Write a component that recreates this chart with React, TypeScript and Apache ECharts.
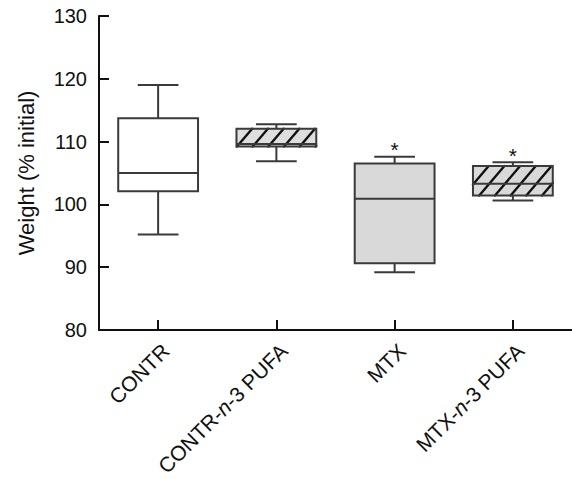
import React, { useEffect, useRef } from "react";
import * as echarts from "echarts";

// ---- data ----
const categories = ["CONTR", "CONTR-n-3 PUFA", "MTX", "MTX-n-3 PUFA"];
const minVals = [95.2, 106.85, 89.2, 100.6];
const q1Vals = [102.1, 109.2, 90.6, 101.4];
const medVals = [105.0, 109.6, 100.9, 103.3];
const q3Vals = [113.7, 112.05, 106.5, 106.1];
const maxVals = [119.0, 112.75, 107.6, 106.7];
const fills = ["#ffffff", "#dedede", "#d9d9d9", "#d9d9d9"];
const hatched = [false, true, false, true];
const starred = [false, false, true, true];
const yMin = 80;
const yMax = 130;
const yStep = 10;
const yName = "Weight (% initial)";

const FONT = "'Liberation Sans', Arial, Helvetica, sans-serif";
const INK = "#111111";
const BOX = "#3a3a3a";

const seriesData = categories.map((_, i) => [
  i,
  minVals[i],
  q1Vals[i],
  medVals[i],
  q3Vals[i],
  maxVals[i],
]);

function renderItem(params: any, api: any) {
  const i = api.value(0);
  const idx = params.dataIndex;
  const pMin = api.coord([i, api.value(1)]);
  const pQ1 = api.coord([i, api.value(2)]);
  const pMed = api.coord([i, api.value(3)]);
  const pQ3 = api.coord([i, api.value(4)]);
  const pMax = api.coord([i, api.value(5)]);
  const band = api.size([1, 0])[0];
  const boxW = band * 0.675;
  const capW = boxW * 0.51;
  const cx = pMed[0];
  const xl = cx - boxW / 2;
  const xr = cx + boxW / 2;
  const yt = pQ3[1];
  const yb = pQ1[1];
  const h = yb - yt;
  const children: any[] = [];

  children.push({
    type: "rect",
    shape: { x: xl, y: yt, width: boxW, height: h },
    style: { fill: fills[idx], stroke: null },
  });

  if (hatched[idx]) {
    const s = 0.85; // horizontal shift per vertical px
    const spacing = 15.7;
    for (let c = xl - h * s - spacing * 2; c <= xr + 0.01; c += spacing) {
      let x1 = c, y1 = yb;
      if (x1 < xl) {
        y1 = yb - (xl - c) / s;
        x1 = xl;
      }
      let x2 = c + h * s, y2 = yt;
      if (x2 > xr) {
        y2 = yb - (xr - c) / s;
        x2 = xr;
      }
      if (y1 <= yt || y2 >= yb || x1 >= xr || x2 <= xl) continue;
      children.push({
        type: "line",
        shape: { x1, y1, x2, y2 },
        style: { stroke: INK, lineWidth: 2.4, lineCap: "round" },
      });
    }
  }

  children.push({
    type: "rect",
    shape: { x: xl, y: yt, width: boxW, height: h },
    style: { fill: "none", stroke: BOX, lineWidth: 2 },
  });
  children.push({
    type: "line",
    shape: { x1: xl, y1: pMed[1], x2: xr, y2: pMed[1] },
    style: { stroke: BOX, lineWidth: 2 },
  });
  children.push({
    type: "line",
    shape: { x1: cx, y1: yt, x2: cx, y2: pMax[1] },
    style: { stroke: BOX, lineWidth: 2 },
  });
  children.push({
    type: "line",
    shape: { x1: cx, y1: yb, x2: cx, y2: pMin[1] },
    style: { stroke: BOX, lineWidth: 2 },
  });
  children.push({
    type: "line",
    shape: { x1: cx - capW / 2, y1: pMax[1], x2: cx + capW / 2, y2: pMax[1] },
    style: { stroke: BOX, lineWidth: 2 },
  });
  children.push({
    type: "line",
    shape: { x1: cx - capW / 2, y1: pMin[1], x2: cx + capW / 2, y2: pMin[1] },
    style: { stroke: BOX, lineWidth: 2 },
  });
  if (starred[idx]) {
    children.push({
      type: "text",
      x: cx,
      y: pMax[1] - 7,
      style: {
        text: "*",
        fontSize: 21,
        fontFamily: FONT,
        fill: INK,
        align: "center",
        verticalAlign: "middle",
      },
    });
  }
  return { type: "group", children };
}

export default function App() {
  const ref = useRef<HTMLDivElement>(null);
  useEffect(() => {
    if (!ref.current) return;
    const chart = echarts.init(ref.current, null, { renderer: "svg" });
    chart.setOption({
      animation: false,
      backgroundColor: "#ffffff",
      textStyle: { fontFamily: FONT },
      grid: { left: 99, top: 16, width: 475, height: 316, containLabel: false },
      xAxis: {
        type: "category",
        data: categories,
        boundaryGap: true,
        axisLine: { show: true, lineStyle: { color: INK, width: 2 } },
        axisTick: {
          show: true,
          alignWithLabel: true,
          inside: true,
          length: 10,
          lineStyle: { color: INK, width: 2 },
        },
        axisLabel: {
          rotate: 45,
          margin: 10,
          verticalAlign: "top",
          fontSize: 21,
          color: INK,
          fontFamily: FONT,
          interval: 0,
          formatter: (v: string) => v.replace("-n-", "-{i|n}-"),
          rich: {
            i: { fontStyle: "italic", fontSize: 21, color: INK, fontFamily: FONT },
          },
        },
        splitLine: { show: false },
      },
      yAxis: {
        type: "value",
        min: yMin,
        max: yMax,
        interval: yStep,
        name: yName,
        nameLocation: "middle",
        nameRotate: 90,
        nameGap: 62,
        nameTextStyle: { fontSize: 22, color: INK, fontFamily: FONT },
        axisLine: { show: true, lineStyle: { color: INK, width: 2 } },
        axisTick: {
          show: true,
          inside: true,
          length: 10,
          lineStyle: { color: INK, width: 2 },
        },
        axisLabel: { fontSize: 20, color: INK, margin: 12, fontFamily: FONT },
        splitLine: { show: false },
      },
      series: [
        {
          type: "custom",
          data: seriesData,
          encode: { x: 0, y: [1, 2, 3, 4, 5] },
          renderItem,
          clip: false,
        },
      ],
    });
    return () => chart.dispose();
  }, []);
  return (
    <div
      ref={ref}
      style={{ position: "absolute", left: 0, top: 0, width: 572, height: 479, background: "#fff" }}
    />
  );
}
